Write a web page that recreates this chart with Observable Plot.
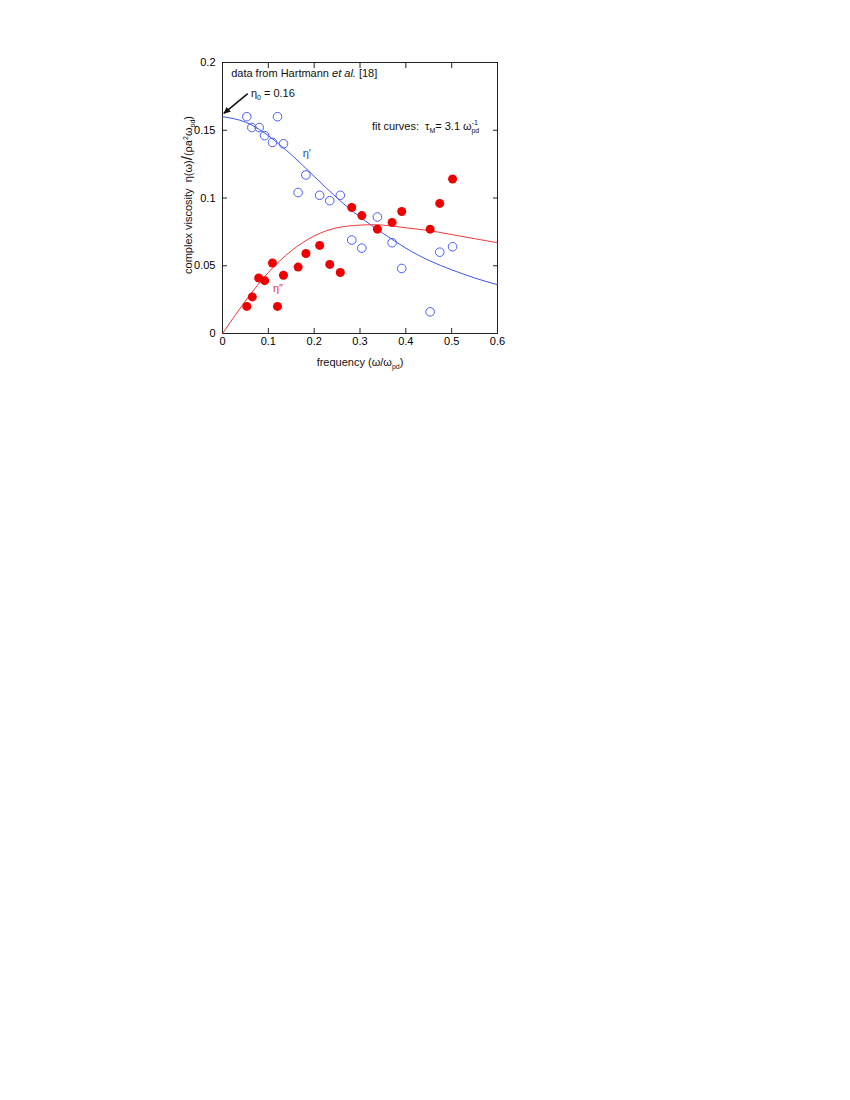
<!DOCTYPE html>
<html><head><meta charset="utf-8">
<script src="https://cdn.jsdelivr.net/npm/d3@7"></script>
<script src="https://cdn.jsdelivr.net/npm/@observablehq/plot@0.6"></script>
<style>
body{margin:0;background:#fff;}
#chart svg{font-family:"Liberation Sans",Arial,sans-serif;}
</style>
</head><body><div id="chart"></div>
<script>
// η′ (storage) data: frequency, value
const freqPrime = [0.053,0.064,0.080,0.092,0.109,0.120,0.133,0.165,0.182,0.212,0.234,0.257,0.282,0.304,0.338,0.370,0.391,0.453,0.474,0.502];
const etaPrime  = [0.160,0.152,0.152,0.146,0.141,0.160,0.140,0.104,0.117,0.102,0.098,0.102,0.069,0.063,0.086,0.067,0.048,0.016,0.060,0.064];
// η″ (loss) data
const freqDouble = [0.053,0.065,0.079,0.092,0.109,0.120,0.133,0.165,0.182,0.212,0.234,0.257,0.282,0.304,0.338,0.370,0.391,0.453,0.474,0.502];
const etaDouble  = [0.020,0.027,0.041,0.039,0.052,0.020,0.043,0.049,0.059,0.065,0.051,0.045,0.093,0.087,0.077,0.082,0.090,0.077,0.096,0.114];
// fit curves
const fitFreq      = [0,0.05,0.1,0.15,0.2,0.25,0.3,0.35,0.4,0.45,0.5,0.55,0.6];
const fitEtaPrime  = [0.160,0.156,0.146,0.132,0.116,0.100,0.086,0.074,0.063,0.054,0.047,0.041,0.036];
const fitEtaDouble = [0.000,0.024,0.045,0.061,0.072,0.078,0.080,0.080,0.078,0.076,0.073,0.070,0.067];
// ticks
const xTicks = [0,0.1,0.2,0.3,0.4,0.5,0.6];
const xTickLabels = ["0","0.1","0.2","0.3","0.4","0.5","0.6"];
const yTicks = [0,0.05,0.1,0.15,0.2];
const yTickLabels = ["0","0.05","0.1","0.15","0.2"];
// annotation anchor points (data coordinates)
const notePos = {data:[0.020,0.189], eta0:[0.063,0.1745], fit:[0.327,0.150], etaP:[0.176,0.130], etaPP:[0.111,0.0305]};
const arrowFrom = [0.055,0.177];
const arrowTo = [0.003,0.1625];

const blue = "#4a5ff0", red = "#ee0000", redLine = "#f03a3a", blueLine = "#3f55f0";

const pts = (xs, ys) => xs.map((x,i)=>({x, y: ys[i]}));
const lab = (ticks, labels) => d => labels[ticks.findIndex(t => Math.abs(t-d) < 1e-9)] ?? "";

const plot = Plot.plot({
  width: 850, height: 400,
  marginLeft: 222, marginRight: 353, marginTop: 62, marginBottom: 67,
  style: {fontSize: "11px", fontFamily: "Liberation Sans, Arial, sans-serif", background: "#fff"},
  x: {domain: [0,0.6]},
  y: {domain: [0,0.2]},
  marks: [
    Plot.frame({stroke: "#222"}),
    Plot.axisX({anchor: "bottom", ticks: xTicks, tickFormat: lab(xTicks,xTickLabels), tickSize: -5, tickPadding: 9, label: null, stroke: "#222"}),
    Plot.axisX({anchor: "top", ticks: xTicks, tickFormat: () => "", tickSize: -5, label: null, stroke: "#222"}),
    Plot.axisY({anchor: "left", ticks: yTicks, tickFormat: lab(yTicks,yTickLabels), tickSize: -5, tickPadding: 12, label: null, stroke: "#222"}),
    Plot.axisY({anchor: "right", ticks: yTicks, tickFormat: () => "", tickSize: -5, label: null, stroke: "#222"}),
    Plot.line(pts(fitFreq, fitEtaPrime), {x: "x", y: "y", stroke: blueLine, strokeWidth: 1, curve: "natural"}),
    Plot.line(pts(fitFreq, fitEtaDouble), {x: "x", y: "y", stroke: redLine, strokeWidth: 1, curve: "natural"}),
    Plot.dot(pts(freqPrime, etaPrime), {x: "x", y: "y", r: 4.3, stroke: blue, strokeWidth: 1, fill: "none"}),
    Plot.dot(pts(freqDouble, etaDouble), {x: "x", y: "y", r: 4.5, fill: red, stroke: "none"}),
    Plot.link([{x1: arrowFrom[0], y1: arrowFrom[1], x2: arrowTo[0], y2: arrowTo[1]}], {x1: "x1", y1: "y1", x2: "x2", y2: "y2", stroke: "#111", strokeWidth: 1.5})
  ]
});
document.getElementById("chart").appendChild(plot);

const svg = d3.select(plot);
const sx = plot.scale("x"), sy = plot.scale("y");
const X = v => sx.apply(v), Y = v => sy.apply(v);

// arrow head
svg.append("defs").html('<marker id="ahead" viewBox="0 0 10 10" refX="9" refY="5" markerWidth="7" markerHeight="7" orient="auto" markerUnits="userSpaceOnUse"><path d="M0,0.5 L10,5 L0,9.5 z" fill="#111"/></marker>');
svg.selectAll('g[aria-label="link"] path').attr("marker-end", "url(#ahead)");

const F = "Liberation Sans, Arial, sans-serif";
function addText(x, y, parts, opts = {}) {
  const t = svg.append("text").attr("x", x).attr("y", y).attr("font-family", F)
    .attr("font-size", opts.size || 11).attr("fill", opts.fill || "#111")
    .attr("text-anchor", opts.anchor || "start").attr("xml:space", "preserve");
  if (opts.transform) t.attr("transform", opts.transform).attr("x", 0).attr("y", 0);
  parts.forEach(p => {
    const s = t.append("tspan").text(p.t);
    if (p.dy != null) s.attr("dy", p.dy);
    if (p.dx != null) s.attr("dx", p.dx);
    if (p.size) s.attr("font-size", p.size);
    if (p.italic) s.attr("font-style", "italic");
  });
  return t;
}

// data source note
addText(X(notePos.data[0]), Y(notePos.data[1]), [{t: "data from Hartmann "}, {t: "et al.", italic: true}, {t: " [18]"}]);
// eta0
addText(X(notePos.eta0[0]), Y(notePos.eta0[1]), [{t: "η"}, {t: "0", size: 7, dy: 3}, {t: " = 0.16", dy: -3}]);
// fit curves
addText(X(notePos.fit[0]), Y(notePos.fit[1]), [
  {t: "fit curves:  τ"}, {t: "M", size: 7, dy: 3}, {t: "= 3.1 ω", dy: -3},
  {t: "-1", size: 7, dy: -5}, {t: "pd", size: 7, dx: -6.5, dy: 8}
]);
// curve labels
addText(X(notePos.etaP[0]), Y(notePos.etaP[1]), [{t: "η′"}], {fill: "#2a3fe0"});
addText(X(notePos.etaPP[0]), Y(notePos.etaPP[1]), [{t: "η″"}], {fill: "#e83030"});

// axis titles
addText(0, 0, [{t: "frequency (ω/ω"}, {t: "pd", size: 7, dy: 2.5}, {t: ")", dy: -2.5}],
  {anchor: "middle", transform: "translate(360,366)"});
addText(0, 0, [
  {t: "complex viscosity  η(ω)"}, {t: "/", size: 15}, {t: "(ρa"},
  {t: "2", size: 7, dy: -4}, {t: "ω", dy: 4}, {t: "pd", size: 7, dy: 2.5}, {t: ")", dy: -2.5}
], {anchor: "middle", transform: "translate(192,195) rotate(-90)"});
</script>
</body></html>
